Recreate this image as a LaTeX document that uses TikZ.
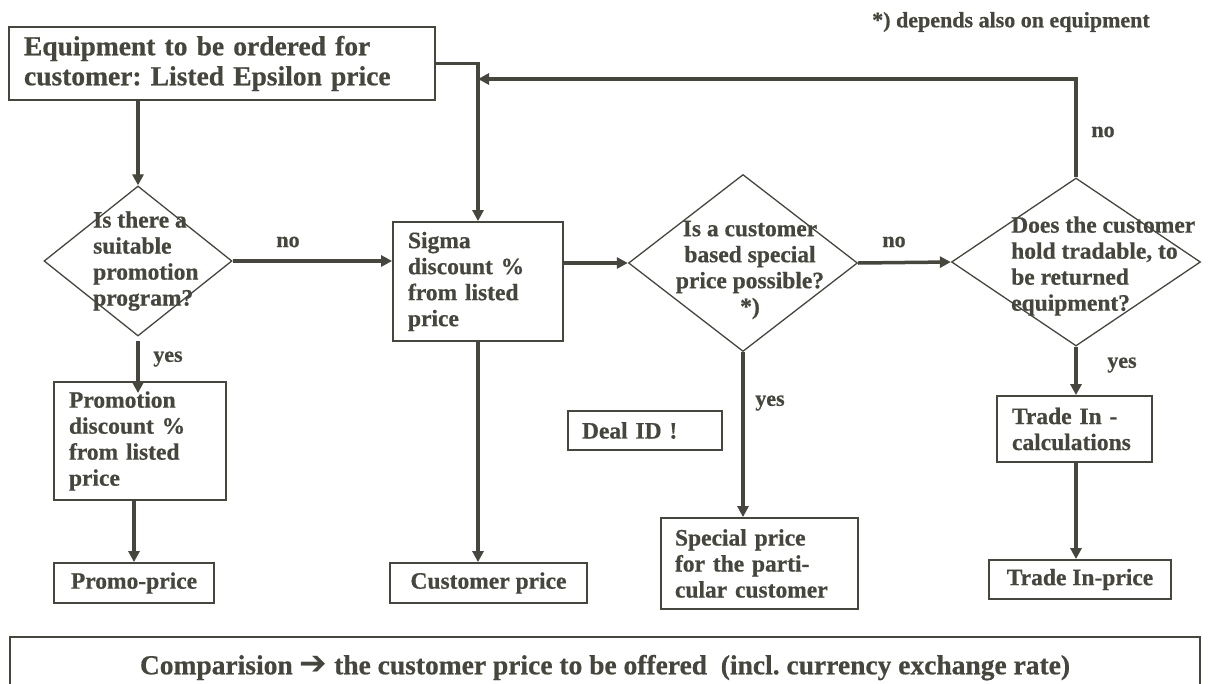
\documentclass[tikz,border=0pt]{standalone}
\usepackage{fontspec}
\setmainfont{Liberation Serif}[BoldFeatures={FakeBold=0.6}]
\newfontfamily\arrowfont{DejaVu Sans}
\usetikzlibrary{arrows.meta,shapes.geometric}
\definecolor{ink}{RGB}{70,70,62}
\frenchspacing
\begin{document}
\begin{tikzpicture}[x=1pt,y=-1pt,
  every node/.style={text=ink, font=\bfseries},
  box/.style={draw=ink, line width=1.8pt, rectangle, inner ysep=0pt, align=left,
    font=\bfseries\fontsize{23.5}{26}\selectfont},
  decision/.style={draw=ink, line width=1.3pt, diamond, inner sep=0pt},
  qtext/.style={inner sep=0pt, font=\bfseries\fontsize{23.5}{26}\selectfont},
  flow/.style={draw=ink, line width=3.5pt, -{Triangle[length=11pt,width=11pt]}},
  tag/.style={inner sep=0pt, font=\bfseries\fontsize{22}{25}\selectfont}
]
\useasboundingbox (0,0) rectangle (1213,683);
\fill[white] (0,0) rectangle (1213,683);
\clip (0,0) rectangle (1213,683);

% start box
\node[box, minimum width=426pt, minimum height=73pt, inner xsep=15pt, text width=396pt,
      font=\bfseries\fontsize{27.5}{30}\selectfont] (equip) at (222,63.5)
  {Equipment to be ordered for\\customer: Listed Epsilon price};

% decisions
\node[decision, minimum width=188pt, minimum height=150pt] (d1) at (138,261) {};
\node[qtext, anchor=west, align=left] (d1q) at (93,261)
  {Is there a\\suitable\\promotion\\program?};

\node[decision, minimum width=229pt, minimum height=177pt] (d2) at (743,263) {};
\node[qtext, align=center] (d2q) at (750,270)
  {Is a customer\\based special\\price possible?\\*)};

\node[decision, minimum width=249pt, minimum height=168pt] (d3) at (1076,262) {};
\node[qtext, anchor=west, align=left] (d3q) at (1011,266)
  {Does the customer\\hold tradable, to\\be returned\\equipment?};

% process boxes
\node[box, minimum width=170pt, minimum height=119pt, inner xsep=15pt, text width=140pt]
  (sigma) at (478,281.5) {Sigma\\discount \%\\from listed\\price};
\node[box, minimum width=172pt, minimum height=118pt, inner xsep=15pt, text width=142pt]
  (promo) at (140,441) {Promotion\\discount \%\\from listed\\price};
\node[box, minimum width=160pt, minimum height=40pt, align=center]
  (promoprice) at (134,583) {Promo-price};
\node[box, minimum width=197pt, minimum height=40pt, align=center]
  (custprice) at (488.5,583) {Customer price};
\node[box, minimum width=154pt, minimum height=39pt, inner xsep=14pt, text width=126pt]
  (dealid) at (645,430.5) {Deal ID !};
\node[box, minimum width=197pt, minimum height=91pt, inner xsep=14pt, text width=169pt]
  (special) at (759.5,563.5) {Special price\\for the parti-\\cular customer};
\node[box, minimum width=155pt, minimum height=66pt, inner xsep=15pt, text width=125pt]
  (tradein) at (1074.5,429) {Trade In -\\calculations};
\node[box, minimum width=182pt, minimum height=39pt, align=center]
  (tradeprice) at (1080,579.5) {Trade In-price};

% summary bar along the bottom
\node[draw=ink, line width=1.8pt, anchor=north, minimum width=1190pt, inner ysep=18pt,
      font=\bfseries\fontsize{27.5}{30}\selectfont] (compare) at (605,636)
  {Comparision {\arrowfont\mdseries\fontsize{33}{30}\selectfont ➔} the customer price to be offered~ (incl. currency exchange rate)};

% labels
\node[tag] (note) at (1011,22) {*) depends also on equipment};
\node[tag] (no1) at (288,242) {no};
\node[tag] (no2) at (894,242) {no};
\node[tag] (no3) at (1103,132) {no};
\node[tag] (yes1) at (168,359) {yes};
\node[tag] (yes2) at (770,403) {yes};
\node[tag] (yes3) at (1122,365) {yes};

% connectors
\coordinate (loop) at (478,79);
\draw[flow] (equip.south -| d1.north) -- (d1.north);
\draw[flow] (d1.east) -- (d1.east -| sigma.west);
\draw[flow] (equip.east) -| (sigma.north);
\draw[flow] (d3.north) |- (loop);
\draw[flow] (sigma.east |- d2.west) -- (d2.west);
\draw[flow] (d2.east) -- (d3.west);
\draw[flow, shorten <=4pt, shorten >=-12pt] (d1.south) -- (d1.south |- promo.north);
\draw[flow] (promo.south -| promoprice.north) -- (promoprice.north);
\draw[flow] (sigma.south) -- (sigma.south |- custprice.north);
\draw[flow] (d2.south) -- (d2.south |- special.north);
\draw[flow] (d3.south) -- (d3.south |- tradein.north);
\draw[flow] (d3.south |- tradein.south) -- (d3.south |- tradeprice.north);
\end{tikzpicture}
\end{document}
